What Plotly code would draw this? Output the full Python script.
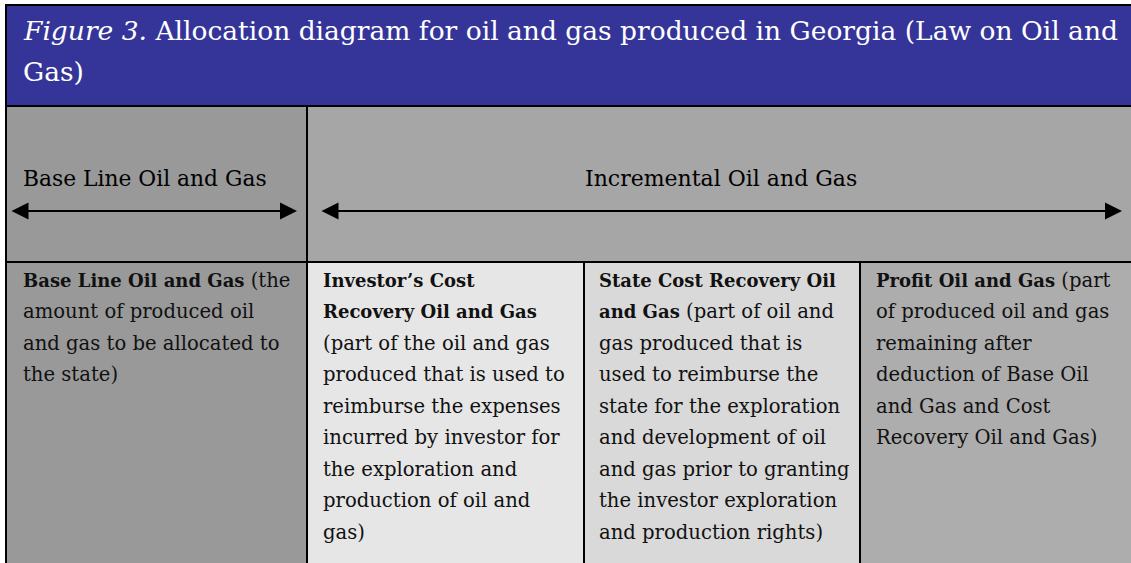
import plotly.graph_objects as go

W, H = 1131, 563
FONT = "DejaVu Serif"

# ---- content ----
title_lines = [
    "<i>Figure 3.</i> Allocation diagram for oil and gas produced in Georgia (Law on Oil and",
    "Gas)",
]
header_labels = ["Base Line Oil and Gas", "Incremental Oil and Gas"]
cell_lines = [
    ["<b>Base Line Oil and Gas</b> (the", "amount of produced oil", "and gas to be allocated to", "the state)"],
    ["<b>Investor’s Cost</b>", "<b>Recovery Oil and Gas</b>", "(part of the oil and gas", "produced that is used to",
     "reimburse the expenses", "incurred by investor for", "the exploration and", "production of oil and", "gas)"],
    ["<b>State Cost Recovery Oil</b>", "<b>and Gas</b> (part of oil and", "gas produced that is", "used to reimburse the",
     "state for the exploration", "and development of oil", "and gas prior to granting", "the investor exploration",
     "and production rights)"],
    ["<b>Profit Oil and Gas</b> (part", "of produced oil and gas", "remaining after", "deduction of Base Oil",
     "and Gas and Cost", "Recovery Oil and Gas)"],
]

# ---- layout geometry ----
title_bottom = 106
header_bottom = 262
left_x = 6
col_x = [left_x, 307, 584, 860, W]
cell_colors = ["#999999", "#e6e6e6", "#d9d9d9", "#adadad"]
title_color = "#353599"
RIGHT = W + 20
BOTTOM = H + 20


def shrink_bold(s, size):
    return s.replace("<b>", f'<span style="font-size:{size}px"><b>').replace("</b>", "</b></span>")


fig = go.Figure()
shapes = []
shapes.append(dict(type="rect", x0=left_x, x1=RIGHT, y0=5, y1=title_bottom, fillcolor=title_color,
                   line=dict(color="black", width=2)))
shapes.append(dict(type="rect", x0=left_x, x1=col_x[1], y0=title_bottom, y1=header_bottom,
                   fillcolor="#999999", line=dict(color="black", width=2)))
shapes.append(dict(type="rect", x0=col_x[1], x1=RIGHT, y0=title_bottom, y1=header_bottom,
                   fillcolor="#a6a6a6", line=dict(color="black", width=2)))
for i in range(4):
    shapes.append(dict(type="rect", x0=col_x[i], x1=(RIGHT if i == 3 else col_x[i + 1]),
                       y0=header_bottom, y1=BOTTOM, fillcolor=cell_colors[i],
                       line=dict(color="black", width=2)))

annotations = []
title_y = [30, 71]
for i, t in enumerate(title_lines):
    annotations.append(dict(x=21, y=title_y[i], text=t, showarrow=False, xanchor="left", yanchor="middle",
                            font=dict(family=FONT, size=26.5, color="white")))
annotations.append(dict(x=21, y=178, text=header_labels[0], showarrow=False, xanchor="left", yanchor="middle",
                        font=dict(family=FONT, size=21.8, color="black")))
annotations.append(dict(x=721, y=178, text=header_labels[1], showarrow=False, xanchor="center", yanchor="middle",
                        font=dict(family=FONT, size=22, color="black")))
for (xa, xb) in [(10, 297), (320, 1122)]:
    annotations.append(dict(x=xb, y=211, ax=xa, ay=211, axref="x", ayref="y", xref="x", yref="y",
                            text="", showarrow=True, arrowside="end+start", arrowhead=2,
                            arrowsize=1.7, arrowwidth=2, arrowcolor="black"))

text_x = [21, 321, 597, 874]
for c, lines in enumerate(cell_lines):
    for j, ln in enumerate(lines):
        annotations.append(dict(x=text_x[c], y=280 + j * 31.5, text=shrink_bold(ln, 18), showarrow=False,
                                xanchor="left", yanchor="middle",
                                font=dict(family=FONT, size=19.6, color="#111111")))

fig.update_layout(
    width=W, height=H, margin=dict(l=0, r=0, t=0, b=0),
    paper_bgcolor="white", plot_bgcolor="white",
    xaxis=dict(range=[0, W], visible=False, fixedrange=True),
    yaxis=dict(range=[H, 0], visible=False, fixedrange=True),
    shapes=shapes, annotations=annotations, showlegend=False,
)
fig.write_html("out.html", config={"displayModeBar": False},
               post_script="document.body.style.margin='0';document.body.style.overflow='hidden';")
